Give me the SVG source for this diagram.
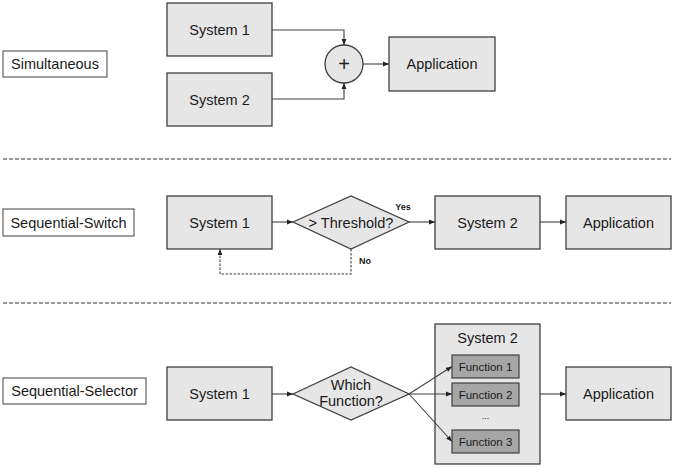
<svg xmlns="http://www.w3.org/2000/svg" width="675" height="468" viewBox="0 0 675 468">
<style>
.box{fill:#e6e6e6;stroke:#404040;stroke-width:1.3}
.lbl{fill:#ffffff;stroke:#404040;stroke-width:1}
.fn{fill:#a6a6a6;stroke:#404040;stroke-width:1.2}
.t{font-family:"Liberation Sans",Arial,sans-serif;font-size:14.5px;fill:#1a1a1a;text-anchor:middle;dominant-baseline:central}
.ts{font-family:"Liberation Sans",Arial,sans-serif;font-size:11.5px;fill:#1a1a1a;text-anchor:middle;dominant-baseline:central}
.tb{font-family:"Liberation Sans",Arial,sans-serif;font-size:9px;font-weight:bold;fill:#1a1a1a;text-anchor:middle;dominant-baseline:central}
.c{fill:none;stroke:#404040;stroke-width:1.1}
.d{stroke-dasharray:2.5,1.5}
.sep{fill:none;stroke:#333;stroke-width:1.2;stroke-dasharray:4,2}
</style>
<defs>
<marker id="ah" viewBox="0 0 10 10" refX="10" refY="5" markerWidth="6" markerHeight="6" markerUnits="userSpaceOnUse" orient="auto">
<path d="M0,1 L10,5 L0,9 z" fill="#222"/>
</marker>
</defs>
<rect width="675" height="468" fill="#ffffff"/>

<g id="separators">
<line class="sep" x1="3" y1="159" x2="671" y2="159"/>
<line class="sep" x1="3" y1="303" x2="671" y2="303"/>
</g>

<g id="label-simultaneous"><rect class="lbl" x="3" y="51" width="104" height="26"/><text class="t" x="55" y="64">Simultaneous</text></g>
<g id="sim-system1"><rect class="box" x="167" y="3" width="105" height="53"/><text class="t" x="219.5" y="30">System 1</text></g>
<g id="sim-system2"><rect class="box" x="167" y="73" width="105" height="53"/><text class="t" x="219.5" y="100">System 2</text></g>
<g id="sim-sum"><circle class="box" cx="344" cy="64" r="19"/><text class="t" x="344" y="64" style="font-size:20px">+</text></g>
<g id="sim-application"><rect class="box" x="389" y="37" width="106" height="54"/><text class="t" x="442" y="64">Application</text></g>

<g id="label-switch"><rect class="lbl" x="3" y="209" width="131" height="27"/><text class="t" x="68.5" y="222.5">Sequential-Switch</text></g>
<g id="sw-system1"><rect class="box" x="167" y="196" width="105" height="53"/><text class="t" x="219.5" y="222.5">System 1</text></g>
<g id="sw-threshold"><polygon class="box" points="293,222 351,196 409,222 351,249"/><text class="t" x="351" y="222.5">&gt; Threshold?</text></g>
<g id="sw-system2"><rect class="box" x="435" y="196" width="105" height="53"/><text class="t" x="487.5" y="222.5">System 2</text></g>
<g id="sw-application"><rect class="box" x="566" y="196" width="105" height="53"/><text class="t" x="618.5" y="222.5">Application</text></g>

<g id="label-selector"><rect class="lbl" x="3" y="378" width="143" height="26"/><text class="t" x="74.5" y="391">Sequential-Selector</text></g>
<g id="sel-system1"><rect class="box" x="167" y="367" width="105" height="53"/><text class="t" x="219.5" y="394">System 1</text></g>
<g id="sel-which"><polygon class="box" points="293,394 351,367 409,394 351,420"/><text class="t" x="351" y="385">Which</text><text class="t" x="351" y="401">Function?</text></g>
<g id="sel-system2">
<rect class="box" x="435" y="324" width="105" height="140"/>
<text class="t" x="487.5" y="338">System 2</text>
<g id="sel-function1"><rect class="fn" x="452" y="355" width="67" height="23"/><text class="ts" x="485.5" y="366.5">Function 1</text></g>
<g id="sel-function2"><rect class="fn" x="452" y="383" width="67" height="23"/><text class="ts" x="485.5" y="394.5">Function 2</text></g>
<text class="ts" x="485.5" y="416" style="font-size:9px">...</text>
<g id="sel-function3"><rect class="fn" x="452" y="430" width="67" height="23"/><text class="ts" x="485.5" y="441.5">Function 3</text></g>
</g>
<g id="sel-application"><rect class="box" x="566" y="367" width="105" height="53"/><text class="t" x="618.5" y="394">Application</text></g>

<g id="connectors">
<polyline class="c" points="272,30 344,30 344,45" marker-end="url(#ah)"/>
<polyline class="c" points="272,99 344,99 344,83" marker-end="url(#ah)"/>
<line class="c" x1="363" y1="64" x2="389" y2="64" marker-end="url(#ah)"/>

<line class="c" x1="272" y1="222" x2="293" y2="222" marker-end="url(#ah)"/>
<line class="c" x1="409" y1="222" x2="435" y2="222" marker-end="url(#ah)"/>
<text class="tb" x="403" y="207">Yes</text>
<line class="c" x1="540" y1="222" x2="566" y2="222" marker-end="url(#ah)"/>
<polyline class="c d" points="351,249 351,274 220,274 220,249" marker-end="url(#ah)"/>
<text class="tb" x="365" y="261">No</text>

<line class="c" x1="272" y1="394" x2="293" y2="394" marker-end="url(#ah)"/>
<line class="c" x1="409" y1="394" x2="452" y2="366.5" marker-end="url(#ah)"/>
<line class="c" x1="409" y1="394" x2="452" y2="394" marker-end="url(#ah)"/>
<line class="c" x1="409" y1="394" x2="452" y2="441.5" marker-end="url(#ah)"/>
<line class="c" x1="540" y1="394" x2="566" y2="394" marker-end="url(#ah)"/>
</g>
</svg>
